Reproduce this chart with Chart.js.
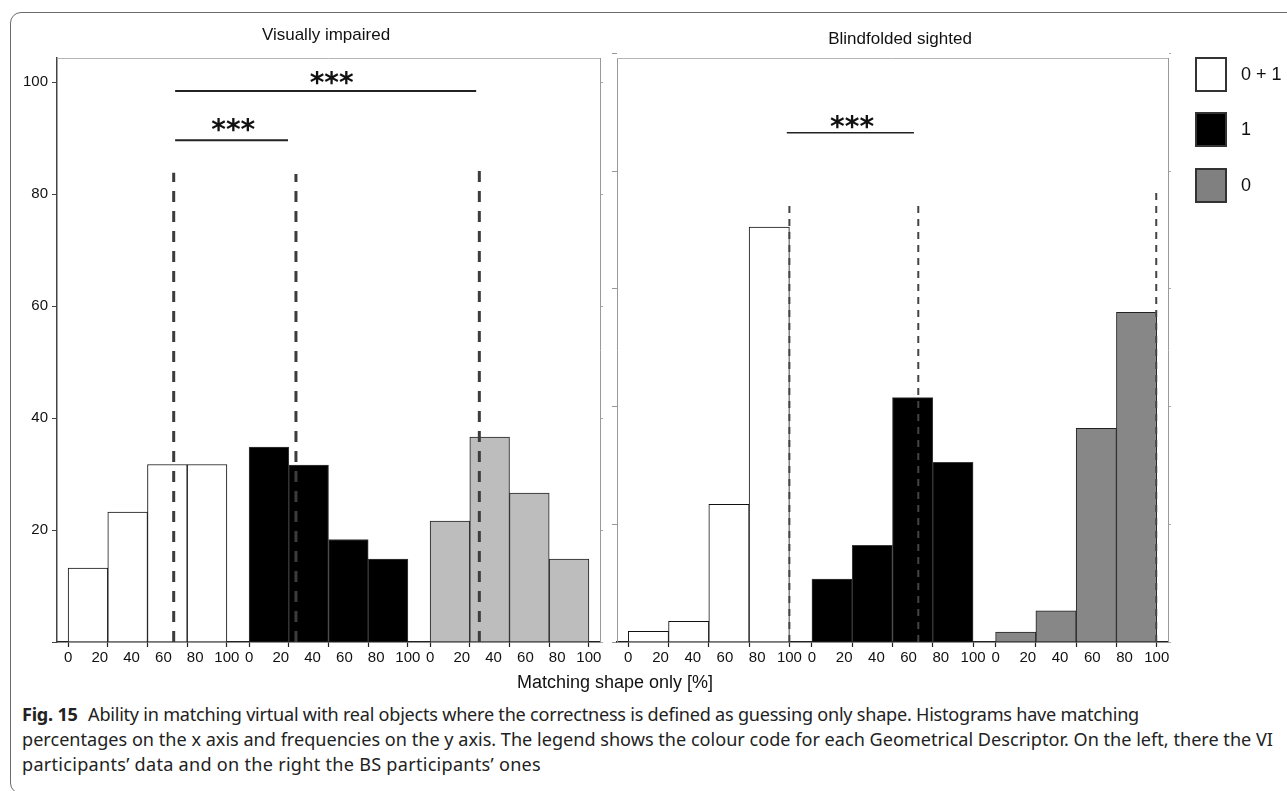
<!DOCTYPE html>
<html>
<head>
<meta charset="utf-8">
<title>Fig. 15 - Matching shape only</title>
<script src="https://cdn.jsdelivr.net/npm/chart.js@4.4.1/dist/chart.umd.min.js"></script>
<style>
html, body { margin: 0; padding: 0; background: #fff; }
body { position: relative; width: 1287px; height: 791px; overflow: hidden; font-family: "Liberation Sans", Arial, sans-serif; color: #111; }
#frame { position: absolute; left: 10px; top: 12px; width: 1320px; height: 780px; border: 1.5px solid #6b6b6b; border-radius: 11px; }
canvas { position: absolute; top: 0; }
#viChart { left: 0; }
#bsChart { left: 607px; }
#xTitle { position: absolute; left: 415px; width: 400px; top: 671px; text-align: center; font-size: 18px; line-height: 22px; }
.leg-item { position: absolute; left: 1195px; width: 92px; height: 35px; }
.leg-box { position: absolute; left: 0; top: 0; width: 32px; height: 35px; box-sizing: border-box; border: 2px solid #333; }
.leg-text { position: absolute; left: 46px; top: 0; line-height: 35px; font-size: 18px; white-space: nowrap; }
.caption { position: absolute; left: 22px; white-space: nowrap; font-family: "Noto Sans", "Open Sans", sans-serif; font-size: 16px; line-height: 24px; color: #222; }
.caption b { font-weight: 700; margin-right: 6px; }
</style>
</head>
<body>
<div id="frame"></div>
<canvas id="viChart" width="660" height="680"></canvas>
<canvas id="bsChart" width="680" height="680"></canvas>
<div id="xTitle">Matching shape only [%]</div>
<div id="legend"></div>
<div class="caption" id="cap1" style="top:702px"><b>Fig. 15</b> Ability in matching virtual with real objects where the correctness is defined as guessing only shape. Histograms have matching</div>
<div class="caption" id="cap2" style="top:727px">percentages on the x axis and frequencies on the y axis. The legend shows the colour code for each Geometrical Descriptor. On the left, there the VI</div>
<div class="caption" id="cap3" style="top:752px">participants’ data and on the right the BS participants’ ones</div>

<script>
/*
Histograms of matching percentage (4 bins of 25 %) per Geometrical Descriptor
*/

// bins and axis labels
const binCenters = [12.5, 37.5, 62.5, 87.5];
const binEdges = [0, 25, 50, 75, 100];
const tickPercents = [0, 20, 40, 60, 80, 100];
const yTicks = [0, 20, 40, 60, 80, 100];
const descriptors = ['0 + 1', '1', '0'];
const legendColors = ['#ffffff', '#000000', '#808080'];

// Visually impaired: frequencies per bin
const viBoth = [13.2, 23.2, 31.7, 31.7];
const viOne = [34.8, 31.6, 18.3, 14.8];
const viZero = [21.6, 36.6, 26.6, 14.8];
const viMarker = [66.5, 29.5, 31.0];      // dashed line, % matching
const viMarkerTop = [83.8, 83.6, 84.5];
const viSigX1 = [67.4, 67.4];
const viSigX2 = [257, 138.5];
const viSigY = [98.4, 89.6];
const viStarX = [166, 104];
const viStarY = [100.9, 92.5];

// Blindfolded sighted: frequencies per bin
const bsBoth = [1.8, 3.5, 23.4, 70.5];
const bsOne = [10.7, 16.4, 41.5, 30.5];
const bsZero = [1.7, 5.3, 36.3, 56.0];
const bsMarker = [100, 66, 99.7];
const bsMarkerTop = [74.8, 74.8, 76.6];
const bsSigX1 = [98.4];
const bsSigX2 = [177.3];
const bsSigY = [86.5];
const bsStarX = [138.9];
const bsStarY = [88.5];

// three histograms side by side on one linear axis
const GROUP_STEP = 114;
const X_MIN = -7;
const X_MAX = 335;

const xTickValues = [];
const binCenterValues = [];
for (let g = 0; g < 3; g++) {
	const vals = new Set(tickPercents.concat(binEdges));
	[...vals].sort((a, b) => a - b).forEach(p => xTickValues.push(g * GROUP_STEP + p));
	binCenters.forEach(c => binCenterValues.push(g * GROUP_STEP + c));
}

function pctOf(v) {
	return ((v % GROUP_STEP) + GROUP_STEP) % GROUP_STEP;
}

function groupPoints(values, g) {
	return values.map((v, i) => ({ x: g * GROUP_STEP + binCenters[i], y: v }));
}

const panelExtras = {
	id: 'panelExtras',
	afterDatasetsDraw(chart, args, opts) {
		const { ctx, chartArea: a, scales } = chart;
		ctx.save();
		ctx.strokeStyle = opts.topColor;
		ctx.lineWidth = 1;
		ctx.beginPath();
		ctx.moveTo(a.left, a.top + 0.5);
		ctx.lineTo(a.right, a.top + 0.5);
		ctx.stroke();
		ctx.fillStyle = '#111';
		ctx.font = 'bold 28px "DejaVu Sans"';
		ctx.textAlign = 'center';
		ctx.textBaseline = 'alphabetic';
		opts.starX.forEach((x, i) => {
			ctx.fillText('***', scales.x.getPixelForValue(x), scales.y.getPixelForValue(opts.starY[i]) + 15);
		});
		ctx.restore();
	}
};

function makePanel(canvasId, p) {
	const datasets = [];
	p.series.forEach((vals, g) => {
		datasets.push({
			type: 'bar',
			label: descriptors[g],
			data: groupPoints(vals, g),
			xAxisID: 'xb',
			backgroundColor: p.fills[g],
			borderColor: p.edges[g],
			borderWidth: 1,
			grouped: false,
			barPercentage: 1,
			categoryPercentage: 1,
			order: 2
		});
	});
	p.marker.forEach((m, g) => {
		datasets.push({
			type: 'line',
			data: [{ x: g * GROUP_STEP + m, y: 0 }, { x: g * GROUP_STEP + m, y: p.markerTop[g] }],
			borderColor: p.dashColor,
			borderWidth: p.dashWidth,
			borderDash: p.dash,
			pointRadius: 0,
			clip: false,
			order: 1
		});
	});
	p.sigX1.forEach((x1, i) => {
		datasets.push({
			type: 'line',
			data: [{ x: x1, y: p.sigY[i] }, { x: p.sigX2[i], y: p.sigY[i] }],
			borderColor: '#222',
			borderWidth: p.sigWidth,
			pointRadius: 0,
			clip: false,
			order: 0
		});
	});

	const yTickBuild = s => { s.ticks = yTicks.map(v => ({ value: v })); };

	const config = {
		type: 'bar',
		data: { datasets: datasets },
		options: {
			responsive: false,
			animation: false,
			events: [],
			layout: { padding: { left: 0, right: p.padRight, top: 0, bottom: 0 } },
			scales: {
				x: {
					type: 'linear',
					position: 'bottom',
					offset: false,
					min: X_MIN,
					max: X_MAX,
					afterBuildTicks: s => { s.ticks = xTickValues.map(v => ({ value: v })); },
					afterFit: s => { s.height = 38; },
					grid: {
						offset: false,
						drawOnChartArea: false,
						tickLength: 5,
						tickWidth: 1.2,
						tickColor: c => (c.tick && pctOf(c.tick.value) % 25 !== 0 ? 'rgba(0,0,0,0)' : '#222')
					},
					border: { color: '#222', width: 1.5 },
					ticks: {
						autoSkip: false,
						maxRotation: 0,
						minRotation: 0,
						padding: 2,
						color: '#111',
						font: { family: 'Liberation Sans', size: 15 },
						callback: v => (pctOf(v) % 20 === 0 ? String(pctOf(v)) : '')
					}
				},
				xb: {
					type: 'linear',
					display: false,
					offset: false,
					grid: { offset: false },
					min: X_MIN,
					max: X_MAX,
					afterBuildTicks: s => { s.ticks = binCenterValues.map(v => ({ value: v })); }
				},
				y: {
					min: 0,
					max: p.yMax,
					afterBuildTicks: yTickBuild,
					afterFit: s => { s.width = p.yWidth; },
					grid: { drawOnChartArea: false, tickLength: 5, tickColor: p.leftColor },
					border: { color: p.leftColor, width: p.leftBorder },
					ticks: {
						display: p.yLabels,
						padding: 4,
						color: '#111',
						font: { family: 'Liberation Sans', size: 15 },
						callback: v => (v === 0 ? '' : String(v))
					}
				},
				y2: {
					position: 'right',
					min: 0,
					max: p.yMax,
					afterBuildTicks: yTickBuild,
					afterFit: s => { s.width = p.y2Width; },
					grid: { drawOnChartArea: false, tickLength: 3, tickColor: '#aaa' },
					border: { color: '#999', width: 1 },
					ticks: { display: false }
				}
			},
			plugins: {
				legend: { display: false },
				tooltip: { enabled: false },
				title: {
					display: true,
					text: p.title,
					color: '#111',
					font: { family: 'Liberation Sans', size: 17, weight: 'normal', lineHeight: 1.2 },
					padding: { top: p.titleTop, bottom: p.titleBottom }
				},
				panelExtras: { topColor: '#b5b5b5', starX: p.starX, starY: p.starY }
			}
		},
		plugins: [panelExtras]
	};

	return new Chart(document.getElementById(canvasId), config);
}

makePanel('viChart', {
	title: 'Visually impaired',
	series: [viBoth, viOne, viZero],
	fills: ['#ffffff', '#000000', '#bdbdbd'],
	edges: ['#111111', '#3a3a3a', '#222222'],
	marker: viMarker, markerTop: viMarkerTop,
	dash: [11, 9], dashWidth: 3, dashColor: '#3c3c3c',
	sigX1: viSigX1, sigX2: viSigX2, sigY: viSigY, sigWidth: 2,
	starX: viStarX, starY: viStarY,
	yMax: 104.3, yLabels: true, yWidth: 57, y2Width: 52, padRight: 8,
	leftColor: '#444', leftBorder: 1.5,
	titleTop: 24.8, titleBottom: 12.8
});

makePanel('bsChart', {
	title: 'Blindfolded sighted',
	series: [bsBoth, bsOne, bsZero],
	fills: ['#ffffff', '#000000', '#878787'],
	edges: ['#111111', '#3a3a3a', '#222222'],
	marker: bsMarker, markerTop: bsMarkerTop,
	dash: [7, 6], dashWidth: 2, dashColor: '#444',
	sigX1: bsSigX1, sigX2: bsSigX2, sigY: bsSigY, sigWidth: 1.6,
	starX: bsStarX, starY: bsStarY,
	yMax: 99.2, yLabels: false, yWidth: 10, y2Width: 25, padRight: 94,
	leftColor: '#999', leftBorder: 1,
	titleTop: 28.8, titleBottom: 8.8
});

// legend: colour code per Geometrical Descriptor
const legendTops = [57, 112, 168];
const legendRoot = document.getElementById('legend');
descriptors.forEach((name, i) => {
	const item = document.createElement('div');
	item.className = 'leg-item';
	item.style.top = legendTops[i] + 'px';
	item.innerHTML = `<div class="leg-box" style="background:${legendColors[i]}"></div><div class="leg-text">${name}</div>`;
	legendRoot.appendChild(item);
});

// fit caption lines to the widths of the printed text block
const capIds = ['cap1', 'cap2', 'cap3'];
const capTargets = [1117, 1251, 519];
const w = document.getElementById('cap2').getBoundingClientRect().width;
const capSize = 16 * capTargets[1] / w;
capIds.forEach((id, i) => {
	const el = document.getElementById(id);
	el.style.fontSize = capSize + 'px';
	const cw = el.getBoundingClientRect().width;
	const n = el.textContent.length;
	el.style.letterSpacing = ((capTargets[i] - cw) / n) + 'px';
});
</script>
</body>
</html>
